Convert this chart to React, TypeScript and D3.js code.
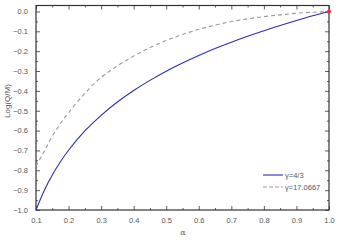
import React, { useEffect, useRef } from 'react';
import * as d3 from 'd3';

// alpha sample points and curves
const alphaBlue = [0.1, 0.125, 0.15, 0.175, 0.2, 0.25, 0.3, 0.35, 0.4, 0.45, 0.5, 0.55, 0.6, 0.65, 0.7, 0.75, 0.8, 0.85, 0.9, 0.95, 1.0];
const logBlue = [-1.0, -0.903, -0.824, -0.757, -0.699, -0.602, -0.523, -0.456, -0.398, -0.347, -0.301, -0.26, -0.222, -0.187, -0.155, -0.125, -0.097, -0.071, -0.046, -0.022, 0];

const alphaGray = [0.1, 0.115, 0.13, 0.15, 0.175, 0.2, 0.25, 0.3, 0.35, 0.4, 0.45, 0.5, 0.55, 0.6, 0.65, 0.7, 0.75, 0.8, 0.85, 0.9, 0.95, 1.0];
const logGray = [-0.78, -0.735, -0.69, -0.628, -0.565, -0.51, -0.412, -0.332, -0.274, -0.225, -0.182, -0.146, -0.116, -0.09, -0.069, -0.051, -0.037, -0.026, -0.017, -0.009, -0.004, 0];

const xMajor = [0.1, 0.2, 0.3, 0.4, 0.5, 0.6, 0.7, 0.8, 0.9, 1.0];
const xMinor = [0.15, 0.25, 0.35, 0.45, 0.55, 0.65, 0.75, 0.85, 0.95];
const yMajor = [0, -0.1, -0.2, -0.3, -0.4, -0.5, -0.6, -0.7, -0.8, -0.9, -1.0];
const yMinor = [-0.05, -0.15, -0.25, -0.35, -0.45, -0.55, -0.65, -0.75, -0.85, -0.95];

const legendLabels = ['γ=4/3', 'γ=17.0667'];

const W = 339;
const H = 240;

const App: React.FC = () => {
  const svgRef = useRef<SVGSVGElement>(null);

  useEffect(() => {
    if (!svgRef.current) return;
    const svg = d3.select(svgRef.current);
    svg.selectAll('*').remove();

    const left = 36, right = 329, top = 5.5, bottom = 210;
    const x = d3.scaleLinear().domain([0.1, 1.0]).range([left, right]);
    const y = d3.scaleLinear().domain([-1, 0.03]).range([bottom, top]);

    const font = 'Liberation Sans, Arial, sans-serif';
    const axisColor = '#333';

    const styleAxis = (g: any) => {
      g.select('.domain').remove();
      g.selectAll('line').attr('stroke', axisColor).attr('stroke-width', 0.8);
      g.selectAll('text')
        .style('font-family', font)
        .style('font-size', '7.5px')
        .attr('fill', '#555');
    };

    // bottom axis: labels + inward ticks
    svg.append('g')
      .attr('transform', `translate(0,${bottom})`)
      .call(d3.axisBottom(x).tickValues(xMajor).tickSize(-4).tickPadding(8).tickFormat(d3.format('.1f')))
      .call(styleAxis);
    svg.append('g')
      .attr('transform', `translate(0,${bottom})`)
      .call(d3.axisBottom(x).tickValues(xMinor).tickSize(-2).tickFormat(() => ''))
      .call(styleAxis);

    // top axis: ticks only
    svg.append('g')
      .attr('transform', `translate(0,${top})`)
      .call(d3.axisTop(x).tickValues(xMajor).tickSize(-4).tickFormat(() => ''))
      .call(styleAxis);
    svg.append('g')
      .attr('transform', `translate(0,${top})`)
      .call(d3.axisTop(x).tickValues(xMinor).tickSize(-2).tickFormat(() => ''))
      .call(styleAxis);

    // left axis
    svg.append('g')
      .attr('transform', `translate(${left},0)`)
      .call(d3.axisLeft(y).tickValues(yMajor).tickSize(-4).tickPadding(8).tickFormat(d3.format('.1f')))
      .call(styleAxis);
    svg.append('g')
      .attr('transform', `translate(${left},0)`)
      .call(d3.axisLeft(y).tickValues(yMinor).tickSize(-2).tickFormat(() => ''))
      .call(styleAxis);

    // right axis: ticks only
    svg.append('g')
      .attr('transform', `translate(${right},0)`)
      .call(d3.axisRight(y).tickValues(yMajor).tickSize(-4).tickFormat(() => ''))
      .call(styleAxis);
    svg.append('g')
      .attr('transform', `translate(${right},0)`)
      .call(d3.axisRight(y).tickValues(yMinor).tickSize(-2).tickFormat(() => ''))
      .call(styleAxis);

    // frame
    svg.append('rect')
      .attr('x', left)
      .attr('y', top)
      .attr('width', right - left)
      .attr('height', bottom - top)
      .attr('fill', 'none')
      .attr('stroke', axisColor)
      .attr('stroke-width', 1.2);

    const line = d3.line<[number, number]>()
      .x(d => x(d[0]))
      .y(d => y(d[1]))
      .curve(d3.curveCatmullRom);

    const grayData = alphaGray.map((a, i) => [a, logGray[i]] as [number, number]);
    const blueData = alphaBlue.map((a, i) => [a, logBlue[i]] as [number, number]);

    svg.append('path')
      .attr('d', line(grayData))
      .attr('fill', 'none')
      .attr('stroke', '#999')
      .attr('stroke-width', 1.1)
      .attr('stroke-dasharray', '4,3');

    svg.append('path')
      .attr('d', line(blueData))
      .attr('fill', 'none')
      .attr('stroke', '#2b2bc4')
      .attr('stroke-width', 1.1);

    // red end point
    svg.append('circle')
      .attr('cx', x(1))
      .attr('cy', y(0))
      .attr('r', 2)
      .attr('fill', '#f23');

    // legend
    const legend = svg.append('g');
    const ly = [175, 187];
    legend.append('line')
      .attr('x1', 263).attr('x2', 283).attr('y1', ly[0]).attr('y2', ly[0])
      .attr('stroke', '#2b2bc4').attr('stroke-width', 1.1);
    legend.append('line')
      .attr('x1', 263).attr('x2', 283).attr('y1', ly[1]).attr('y2', ly[1])
      .attr('stroke', '#999').attr('stroke-width', 1.1).attr('stroke-dasharray', '4,2');
    legendLabels.forEach((t, i) => {
      legend.append('text')
        .attr('x', 285)
        .attr('y', ly[i] + 2.5)
        .style('font-family', font)
        .style('font-size', '7.5px')
        .attr('fill', '#555')
        .text(t);
    });

    // axis titles
    svg.append('text')
      .attr('transform', `translate(10,${101}) rotate(-90)`)
      .attr('text-anchor', 'middle')
      .style('font-family', font)
      .style('font-size', '8px')
      .attr('fill', '#555')
      .text('Log(Q/M)');

    svg.append('text')
      .attr('x', 183)
      .attr('y', 235)
      .attr('text-anchor', 'middle')
      .style('font-family', 'DejaVu Serif, serif')
      .style('font-size', '8px')
      .attr('fill', '#555')
      .text('α');
  }, []);

  return (
    <svg
      ref={svgRef}
      width={W}
      height={H}
      style={{ position: 'absolute', left: 0, top: 0, background: '#fff' }}
    />
  );
};

export default App;
